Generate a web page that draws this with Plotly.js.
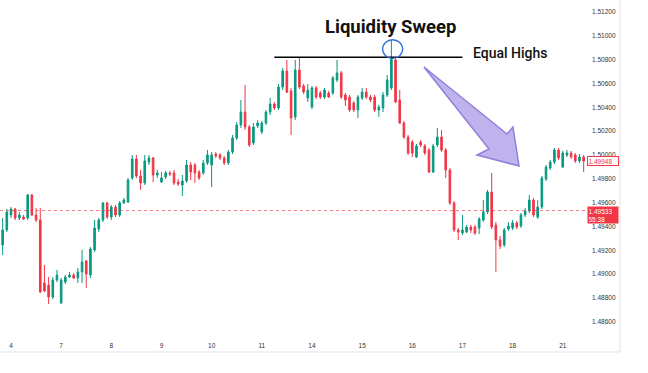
<!DOCTYPE html>
<html><head><meta charset="utf-8">
<script src="https://cdn.plot.ly/plotly-3.0.1.min.js"></script>
<style>html,body{margin:0;padding:0;background:#fff;}#chart{width:648px;height:373px;}</style>
</head><body><div id="chart"></div>
<script>
// ---- data (2H candles) ----
const dayLabels = ['4','7','8','9','10','11','14','15','16','17','18','21'];
const candlesPerDay = 12;
const firstDayCandle = 2;

const open = [
1.49244,1.49370,1.49496,1.49546,1.49471,1.49479,1.49471,1.49664,1.49496,1.49454,
1.48925,1.48908,1.48807,1.48950,1.48757,1.48933,1.48975,1.48992,1.48967,1.49017,
1.49110,1.48992,1.49202,1.49378,1.49454,1.49597,1.49479,1.49563,1.49496,1.49597,
1.49605,1.49807,1.49966,1.49824,1.49765,1.49941,1.49975,1.49832,1.49773,1.49815,
1.49849,1.49849,1.49773,1.49748,1.49782,1.49916,1.49916,1.49857,1.49849,1.49933,
1.49916,1.50008,1.50000,1.49975,1.49933,1.50025,1.50143,1.50252,1.50361,1.50235,
1.50101,1.50244,1.50193,1.50269,1.50361,1.50428,1.50395,1.50571,1.50706,1.50538,
1.50319,1.50714,1.50580,1.50479,1.50403,1.50563,1.50521,1.50487,1.50521,1.50521,
1.50630,1.50689,1.50504,1.50487,1.50437,1.50378,1.50479,1.50529,1.50487,1.50487,
1.50378,1.50395,1.50504,1.50563,1.50798,1.50462,1.50269,1.50151,1.50109,1.49983,
1.50109,1.50076,1.50042,1.49857,1.50084,1.50151,1.50042,1.49874,1.49597,1.49370,
1.49345,1.49353,1.49395,1.49395,1.49387,1.49454,1.49521,1.49689,1.49412,1.49286,
1.49244,1.49378,1.49387,1.49429,1.49404,1.49496,1.49530,1.49622,1.49479,1.49563,
1.49798,1.49891,1.49941,1.50042,1.49899,1.50000,1.50017,1.50000,1.49950,1.49983];

const high = [
1.49471,1.49546,1.49563,1.49555,1.49521,1.49496,1.49672,1.49672,1.49555,1.49555,
1.49076,1.48975,1.48975,1.49034,1.48967,1.48992,1.49017,1.49009,1.49051,1.49202,
1.49118,1.49227,1.49454,1.49471,1.49605,1.49605,1.49580,1.49580,1.49614,1.49639,
1.49807,1.50000,1.50000,1.49874,1.50000,1.50000,1.49983,1.49874,1.49857,1.49866,
1.49866,1.49874,1.49798,1.49832,1.49958,1.49941,1.49933,1.49874,1.49958,1.50042,
1.50025,1.50025,1.50017,1.49992,1.50042,1.50168,1.50277,1.50462,1.50588,1.50252,
1.50269,1.50294,1.50286,1.50378,1.50479,1.50445,1.50596,1.50731,1.50798,1.50563,
1.50798,1.50815,1.50596,1.50596,1.50580,1.50580,1.50538,1.50563,1.50538,1.50664,
1.50798,1.50706,1.50521,1.50504,1.50454,1.50504,1.50563,1.50563,1.50504,1.50504,
1.50420,1.50529,1.50672,1.50966,1.50823,1.50546,1.50286,1.50168,1.50126,1.50092,
1.50126,1.50092,1.50059,1.50092,1.50227,1.50210,1.50059,1.49891,1.49614,1.49387,
1.49496,1.49412,1.49412,1.49412,1.49479,1.49622,1.49706,1.49849,1.49437,1.49320,
1.49387,1.49437,1.49454,1.49446,1.49513,1.49555,1.49664,1.49639,1.49622,1.49824,
1.49916,1.49958,1.50059,1.50059,1.50034,1.50042,1.50034,1.50017,1.50008,1.50000];

const low = [
1.49160,1.49353,1.49471,1.49454,1.49454,1.49454,1.49454,1.49488,1.49437,1.48841,
1.48849,1.48748,1.48790,1.48933,1.48748,1.48916,1.48967,1.48958,1.48925,1.48925,
1.48883,1.48967,1.49185,1.49353,1.49437,1.49462,1.49454,1.49479,1.49479,1.49588,
1.49597,1.49790,1.49807,1.49706,1.49748,1.49916,1.49773,1.49807,1.49765,1.49798,
1.49824,1.49748,1.49740,1.49656,1.49765,1.49790,1.49765,1.49790,1.49832,1.49916,
1.49731,1.49975,1.49958,1.49916,1.49916,1.50008,1.50126,1.50227,1.50210,1.50067,
1.50084,1.50227,1.50176,1.50252,1.50336,1.50378,1.50378,1.50546,1.50521,1.50168,
1.50294,1.50554,1.50512,1.50445,1.50386,1.50470,1.50470,1.50470,1.50479,1.50504,
1.50613,1.50470,1.50412,1.50361,1.50361,1.50311,1.50462,1.50470,1.50445,1.50361,
1.50319,1.50361,1.50487,1.50546,1.50437,1.50260,1.50134,1.50000,1.49983,1.49975,
1.50067,1.50000,1.49849,1.49849,1.50067,1.50025,1.49807,1.49580,1.49353,1.49286,
1.49328,1.49345,1.49345,1.49328,1.49336,1.49437,1.49504,1.49378,1.49017,1.49210,
1.49227,1.49361,1.49370,1.49378,1.49387,1.49479,1.49513,1.49479,1.49462,1.49546,
1.49782,1.49874,1.49924,1.49958,1.49891,1.49983,1.49966,1.49933,1.49933,1.49857];

const close = [
1.49370,1.49521,1.49546,1.49471,1.49496,1.49462,1.49664,1.49496,1.49454,1.48849,
1.48858,1.48807,1.48950,1.48992,1.48950,1.48975,1.48992,1.48967,1.49017,1.49101,
1.49000,1.49210,1.49387,1.49454,1.49597,1.49479,1.49563,1.49496,1.49597,1.49622,
1.49790,1.49966,1.49824,1.49765,1.49950,1.49975,1.49832,1.49849,1.49807,1.49849,
1.49840,1.49765,1.49756,1.49782,1.49916,1.49857,1.49849,1.49807,1.49933,1.50000,
1.50000,1.49992,1.49975,1.49933,1.50025,1.50143,1.50252,1.50361,1.50235,1.50084,
1.50235,1.50269,1.50269,1.50361,1.50428,1.50395,1.50571,1.50706,1.50529,1.50311,
1.50714,1.50571,1.50529,1.50546,1.50563,1.50487,1.50487,1.50546,1.50487,1.50647,
1.50689,1.50487,1.50462,1.50378,1.50378,1.50487,1.50529,1.50487,1.50462,1.50378,
1.50403,1.50504,1.50630,1.50815,1.50445,1.50269,1.50151,1.50017,1.50017,1.50076,
1.50084,1.50017,1.49857,1.50076,1.50151,1.50042,1.49874,1.49597,1.49370,1.49353,
1.49370,1.49395,1.49370,1.49345,1.49462,1.49521,1.49689,1.49395,1.49286,1.49236,
1.49370,1.49404,1.49429,1.49395,1.49496,1.49530,1.49622,1.49496,1.49563,1.49807,
1.49899,1.49941,1.50042,1.49975,1.50017,1.50017,1.49983,1.49950,1.49983,1.49948];

const priceTicks = [1.486,1.488,1.490,1.492,1.494,1.496,1.498,1.500,1.502,1.504,1.506,1.508,1.510,1.512];
const equalHighs = 1.50821;
const eqLineFrom = 65, eqLineTo = 110;     // candle positions spanned by the drawn line
const priceLine = 1.49533;
const priceTimer = '55:38';

// ---- build ----
const UP = '#089981', DN = '#F23645';
const x = open.map((_, k) => k);
const tickvals = dayLabels.map((_, j) => firstDayCandle + j * candlesPerDay);
const last = close.length - 1;
let sweepIdx = 0;
high.forEach((h, k) => { if (h > high[sweepIdx]) sweepIdx = k; });

const W = 587, H = 352;
const P = (px, py) => (px / W).toFixed(4) + ',' + (1 - py / H).toFixed(4);
const arrowPath = 'M' + P(424,67) + 'L' + P(507,134) + 'L' + P(513,127) + 'L' + P(519,166) +
                  'L' + P(477,155) + 'L' + P(489,149) + 'Z';

const trace = {
  type: 'candlestick', x: x, open: open, high: high, low: low, close: close,
  increasing: {line: {color: UP, width: 1}, fillcolor: UP},
  decreasing: {line: {color: DN, width: 1}, fillcolor: DN},
  whiskerwidth: 0, hoverinfo: 'skip', showlegend: false
};

const layout = {
  width: 648, height: 373,
  margin: {l: 0, r: 61, t: 0, b: 21},
  paper_bgcolor: '#ffffff', plot_bgcolor: '#ffffff',
  showlegend: false, hovermode: false, boxgap: 0.45,
  font: {family: 'Liberation Sans, Arial, sans-serif', color: '#333'},
  xaxis: {
    range: [-0.63, 139.8], tickvals: tickvals, ticktext: dayLabels,
    ticklabelposition: 'inside', ticks: '', showgrid: false, zeroline: false,
    showline: false, rangeslider: {visible: false}, fixedrange: true,
    tickfont: {size: 6.5, color: '#333'}
  },
  yaxis: {
    side: 'right', range: [1.48345, 1.51302],
    tickvals: priceTicks, ticktext: priceTicks.map(v => v.toFixed(5)),
    ticks: '', ticklabelstandoff: 4, showgrid: false, zeroline: false, showline: false, fixedrange: true,
    tickfont: {size: 6.5, color: '#333'}
  },
  shapes: [
    {type: 'line', xref: 'paper', yref: 'y', x0: 0, x1: 1, y0: priceLine, y1: priceLine,
     line: {color: 'rgba(242,54,69,0.65)', width: 1, dash: 'dot'}},
    {type: 'line', xref: 'paper', yref: 'paper', x0: 0, x1: 620 / W, y0: 1 - 352 / H, y1: 1 - 352 / H,
     line: {color: '#e0e3eb', width: 1}},
    {type: 'line', xref: 'paper', yref: 'paper', x0: 620 / W, x1: 620 / W, y0: 0, y1: 1,
     line: {color: '#e0e3eb', width: 1}},
    {type: 'line', xref: 'x', yref: 'y', x0: eqLineFrom, x1: eqLineTo, y0: equalHighs, y1: equalHighs,
     line: {color: '#000000', width: 1.6}},
    {type: 'circle', xref: 'x', yref: 'y', x0: sweepIdx - 2.1, x1: sweepIdx + 2.7,
     y0: equalHighs - 0.0001, y1: high[sweepIdx] + 0.00002,
     line: {color: '#2f6fdc', width: 1.3}},
    {type: 'path', xref: 'paper', yref: 'paper', path: arrowPath,
     fillcolor: 'rgba(150,128,225,0.6)', line: {color: '#9080dc', width: 1.5}}
  ],
  annotations: [
    {xref: 'paper', yref: 'paper', x: 390 / W, y: 1 - 27 / H, xanchor: 'center', yanchor: 'middle',
     text: '<b>Liquidity Sweep</b>', showarrow: false,
     font: {family: 'Roboto, Liberation Sans, sans-serif', size: 18.5, color: '#111'}},
    {xref: 'paper', yref: 'paper', x: 471 / W, y: 1 - 53 / H, xanchor: 'left', yanchor: 'middle',
     text: 'Equal Highs', showarrow: false,
     font: {family: 'Roboto, Liberation Sans, sans-serif', size: 14, color: '#111', weight: 500}},
    {xref: 'paper', yref: 'y', x: 1, y: priceLine, xanchor: 'left', yanchor: 'top', yshift: 5,
     text: priceLine.toFixed(5) + '<br>' + priceTimer, showarrow: false, align: 'left',
     bgcolor: DN, borderpad: 0.5, width: 29,
     font: {size: 6.5, color: '#ffffff'}},
    {xref: 'paper', yref: 'y', x: 1, y: close[last], xanchor: 'left', yanchor: 'middle',
     text: close[last].toFixed(5), showarrow: false, align: 'left',
     bgcolor: '#ffffff', bordercolor: DN, borderwidth: 1, borderpad: 0.5, width: 29,
     font: {size: 6.5, color: DN}}
  ]
};

Plotly.newPlot('chart', [trace], layout, {staticPlot: true, displayModeBar: false});
</script>
</body></html>
